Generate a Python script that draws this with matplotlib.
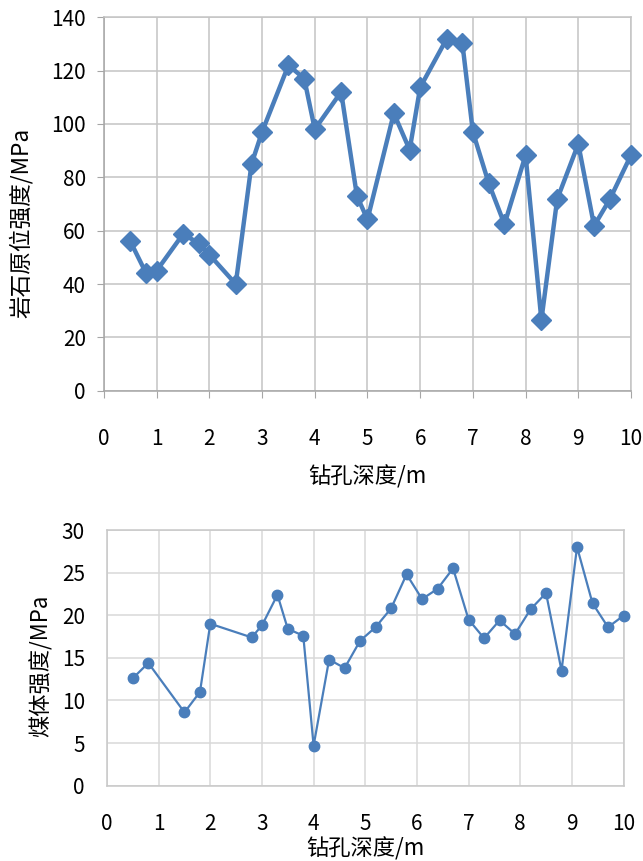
import matplotlib
matplotlib.use("Agg")
import matplotlib.pyplot as plt

plt.rcParams['font.family'] = ['Noto Sans CJK SC', 'DejaVu Sans']

# rock in-situ strength (top chart)
rock_depth = [0.5, 0.8, 1.0, 1.5, 1.8, 2.0, 2.5, 2.8, 3.0, 3.5, 3.8, 4.0, 4.5, 4.8, 5.0,
              5.5, 5.8, 6.0, 6.5, 6.8, 7.0, 7.3, 7.6, 8.0, 8.3, 8.6, 9.0, 9.3, 9.6, 10.0]
rock_strength = [56, 44, 45, 58.7, 55.3, 51, 40, 85, 97, 122, 117, 98, 112, 73, 64.2,
                 104, 90.3, 113.7, 131.8, 130.3, 97, 77.8, 62.4, 88.3, 26.5, 71.8, 92.5, 61.8, 71.8, 88.3]

# coal strength (bottom chart)
coal_depth = [0.5, 0.8, 1.5, 1.8, 2.0, 2.8, 3.0, 3.3, 3.5, 3.8, 4.0, 4.3, 4.6, 4.9, 5.2,
              5.5, 5.8, 6.1, 6.4, 6.7, 7.0, 7.3, 7.6, 7.9, 8.2, 8.5, 8.8, 9.1, 9.4, 9.7, 10.0]
coal_strength = [12.6, 14.4, 8.6, 11.0, 19.0, 17.4, 18.8, 22.4, 18.4, 17.6, 4.7, 14.8, 13.8, 17.0, 18.6,
                 20.8, 24.8, 21.9, 23.1, 25.5, 19.5, 17.3, 19.4, 17.8, 20.7, 22.6, 13.5, 28.0, 21.4, 18.6, 19.95]

blue = "#4a7ebb"
xlab = "钻孔深度/m"

fig = plt.figure(figsize=(6.43, 8.61), dpi=100)

# top chart
ax1 = fig.add_axes([0.1617, 0.5462, 0.8196, 0.4338])
ax1.plot(rock_depth, rock_strength, color=blue, lw=3.2, marker="D", ms=10, zorder=3, clip_on=False)
ax1.set_xlim(0, 10)
ax1.set_ylim(0, 140)
ax1.set_xticks(range(0, 11))
ax1.set_yticks(range(0, 141, 20))
ax1.grid(True, color="#c4c4c4", lw=1.1)
for s in ax1.spines.values():
    s.set_color("#a6a6a6")
    s.set_linewidth(1.1)
ax1.spines["top"].set_color("#c4c4c4")
ax1.spines["right"].set_color("#c4c4c4")
ax1.tick_params(axis="x", length=5, color="#a6a6a6", pad=22, labelsize=15)
ax1.tick_params(axis="y", length=5, color="#a6a6a6", pad=8, labelsize=15)
ax1.set_xlabel(xlab, fontsize=16)
ax1.xaxis.set_label_coords(0.5, -0.2)
ax1.set_ylabel("岩石原位强度/MPa", fontsize=16.3)
ax1.yaxis.set_label_coords(-0.135, 0.449)

# bottom chart
ax2 = fig.add_axes([0.1664, 0.0875, 0.8033, 0.2969])
ax2.plot(coal_depth, coal_strength, color=blue, lw=1.6, marker="o", ms=7.5, zorder=3, clip_on=False)
ax2.set_xlim(0, 10)
ax2.set_ylim(0, 30)
ax2.set_xticks(range(0, 11))
ax2.set_yticks(range(0, 31, 5))
ax2.grid(True, color="#d9d9d9", lw=1.1)
for s in ax2.spines.values():
    s.set_color("#c8c8c8")
    s.set_linewidth(1.1)
ax2.tick_params(axis="x", length=0, pad=20, labelsize=15)
ax2.tick_params(axis="y", length=0, pad=16, labelsize=15)
ax2.set_xlabel(xlab, fontsize=16)
ax2.xaxis.set_label_coords(0.5, -0.2)
ax2.set_ylabel("煤体强度/MPa", fontsize=16)
ax2.yaxis.set_label_coords(-0.105, 0.47)

fig.savefig("out.png", dpi=100)
